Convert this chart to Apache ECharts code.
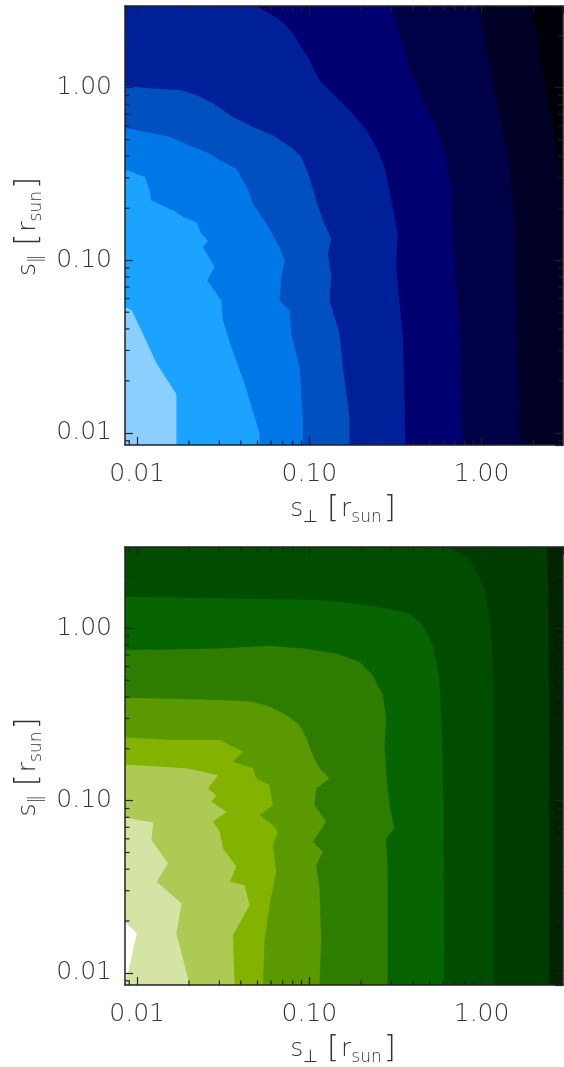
<!DOCTYPE html>
<html><head><meta charset="utf-8">
<script src="https://cdn.jsdelivr.net/npm/echarts@6/dist/echarts.min.js"></script>
<style>html,body{margin:0;padding:0;background:#fff}#c{width:564px;height:1067px}</style>
</head><body><div id="c"></div>
<script>
// ---- axis data ----
const AXIS_MIN = 0.0085, AXIS_MAX = 2.97;
const tickValues = [0.01, 0.1, 1];
const tickLabels = ['0.01', '0.10', '1.00'];
const minorTickValues = [0.009, 0.02, 0.03, 0.04, 0.05, 0.06, 0.07, 0.08, 0.09,
  0.2, 0.3, 0.4, 0.5, 0.6, 0.7, 0.8, 0.9, 2];

// ---- top panel: contour boundaries [s_perp, s_par] (outermost first) ----
const blueBand8 = [[1.932,2.97],[2.111,1.881],[2.308,1.103],[2.523,0.707],[2.697,0.474],[2.820,0.347],[2.97,0.254]];
const blueBand7 = [[0.948,2.97],[1.036,2.056],[1.158,1.055],[1.323,0.592],[1.447,0.347],[1.547,0.178],[1.581,0.0913],[1.617,0.0375],[1.654,0.0085]];
const blueBand6 = [[0.305,2.97],[0.326,2.247],[0.381,1.318],[0.455,0.845],[0.544,0.592],[0.608,0.433],[0.664,0.278],[0.679,0.142],[0.694,0.0913],[0.726,0.0585],[0.759,0.024],[0.776,0.0085]];
const blueBand5 = [[0.0492,2.97],[0.0588,2.685],[0.0702,2.403],[0.0802,2.056],[0.0897,1.721],[0.1002,1.44],[0.1145,1.103],[0.143,0.883],[0.179,0.707],[0.214,0.566],[0.244,0.453],[0.273,0.347],[0.292,0.254],[0.312,0.178],[0.326,0.142],[0.319,0.0913],[0.333,0.0585],[0.348,0.0375],[0.356,0.0192],[0.361,0.0085]];
const blueBand4 = [[0.0085,1.018],[0.0124,0.987],[0.0181,0.965],[0.0221,0.903],[0.0276,0.808],[0.036,0.676],[0.047,0.592],[0.0614,0.530],[0.0802,0.443],[0.0897,0.396],[0.1002,0.303],[0.1095,0.222],[0.1198,0.170],[0.1339,0.133],[0.128,0.109],[0.1339,0.080],[0.1309,0.0585],[0.1496,0.0375],[0.1564,0.024],[0.171,0.0123],[0.171,0.0085]];
const blueBand3 = [[0.0085,0.584],[0.0113,0.553],[0.0155,0.518],[0.0211,0.453],[0.0264,0.414],[0.0302,0.379],[0.0377,0.339],[0.0412,0.290],[0.045,0.243],[0.047,0.213],[0.0514,0.186],[0.0562,0.163],[0.0672,0.119],[0.0718,0.0998],[0.0687,0.080],[0.0672,0.0585],[0.0767,0.0512],[0.0785,0.0375],[0.0877,0.024],[0.0917,0.0123],[0.0917,0.0085]];
const blueBand2 = [[0.0085,0.335],[0.0111,0.303],[0.0118,0.254],[0.0121,0.222],[0.0162,0.194],[0.0185,0.178],[0.0221,0.166],[0.0236,0.142],[0.0258,0.130],[0.0241,0.119],[0.0282,0.0913],[0.0255,0.0764],[0.0308,0.0585],[0.0315,0.0448],[0.0352,0.0314],[0.0421,0.0192],[0.0514,0.0099],[0.0514,0.0085]];
const blueBand1 = [[0.0085,0.0535],[0.0093,0.0512],[0.0108,0.0375],[0.0130,0.0251],[0.0169,0.0168],[0.0169,0.0085]];
const blueColors = ['#000026','#000046','#000070','#00209a','#0050c0','#0078e8','#1ba3ff','#8bcfff'];
const blueBackground = '#000008';

// ---- bottom panel ----
const greenBand9 = [[2.403,2.97],[2.44,1.5],[2.469,0.36],[2.469,0.0085]];
const greenBand8 = [[0.650,2.97],[0.848,2.551],[1.036,1.707],[1.138,1.0],[1.184,0.392],[1.184,0.0085]];
const greenBand7 = [[0.0085,1.527],[0.1145,1.461],[0.179,1.397],[0.279,1.307],[0.381,1.222],[0.455,1.046],[0.520,0.800],[0.569,0.513],[0.589,0.230],[0.600,0.0942],[0.608,0.0085]];
const greenBand6 = [[0.0085,0.748],[0.0302,0.765],[0.0588,0.793],[0.0917,0.765],[0.143,0.716],[0.195,0.640],[0.233,0.536],[0.267,0.410],[0.279,0.300],[0.273,0.210],[0.279,0.147],[0.292,0.0942],[0.312,0.0689],[0.279,0.0603],[0.285,0.0386],[0.285,0.0085]];
const greenBand5 = [[0.0085,0.396],[0.0193,0.389],[0.0302,0.384],[0.047,0.375],[0.0588,0.351],[0.0734,0.314],[0.0877,0.275],[0.0959,0.230],[0.1048,0.184],[0.1145,0.154],[0.1309,0.1345],[0.1095,0.1177],[0.1071,0.0942],[0.1252,0.0753],[0.1145,0.0659],[0.1048,0.0577],[0.1198,0.0504],[0.1095,0.0422],[0.1145,0.0309],[0.1171,0.0158],[0.1145,0.0085]];
const greenBand4 = [[0.0085,0.233],[0.0155,0.225],[0.0302,0.225],[0.0412,0.192],[0.036,0.168],[0.047,0.154],[0.0492,0.1345],[0.0588,0.123],[0.0614,0.0942],[0.0514,0.0824],[0.0614,0.0721],[0.0657,0.0659],[0.0614,0.0551],[0.0642,0.0386],[0.0588,0.0247],[0.055,0.0158],[0.0538,0.0085]];
const greenBand3 = [[0.0085,0.162],[0.0193,0.154],[0.0295,0.1406],[0.0258,0.1177],[0.0288,0.1076],[0.027,0.0984],[0.033,0.0861],[0.0276,0.0753],[0.0302,0.0659],[0.0315,0.0528],[0.0377,0.0413],[0.0345,0.0338],[0.0421,0.0323],[0.045,0.0247],[0.036,0.0166],[0.0368,0.0085]];
const greenBand2 = [[0.0085,0.0795],[0.0124,0.0746],[0.0121,0.059],[0.0151,0.0432],[0.013,0.0338],[0.0181,0.0253],[0.0169,0.0169],[0.0202,0.0085]];
const greenBand1 = [[0.0085,0.0198],[0.00995,0.0169],[0.00887,0.0101],[0.0085,0.0089]];
const greenColors = ['#003b00','#004d00','#066500','#2e7d00','#5a9900','#83b200','#adca55','#d5e4a5','#ffffff'];
const greenBackground = '#002400';

const blueContours = [blueBand8, blueBand7, blueBand6, blueBand5, blueBand4, blueBand3, blueBand2, blueBand1];
const greenContours = [greenBand9, greenBand8, greenBand7, greenBand6, greenBand5, greenBand4, greenBand3, greenBand2, greenBand1];

const FONT = "'DejaVu Sans', sans-serif";
const TXT = '#333';
const AXC = '#222';

function bandRenderer(contours, colors) {
  return function (params, api) {
    const c = contours[params.dataIndex];
    const pts = c.map(p => api.coord(p));
    const last = c[c.length - 1];
    if (last[0] >= AXIS_MAX) pts.push(api.coord([AXIS_MAX, AXIS_MIN]));
    pts.push(api.coord([AXIS_MIN, AXIS_MIN]));
    pts.push(api.coord([AXIS_MIN, AXIS_MAX]));
    return { type: 'polygon', shape: { points: pts }, style: { fill: colors[params.dataIndex], stroke: null } };
  };
}
function minorTickRenderer(params, api) {
  const v = minorTickValues[params.dataIndex];
  const b = api.coord([v, AXIS_MIN]), t = api.coord([v, AXIS_MAX]);
  const l = api.coord([AXIS_MIN, v]), r = api.coord([AXIS_MAX, v]);
  const L = 4.5;
  const st = { stroke: AXC, lineWidth: 1.2 };
  return { type: 'group', children: [
    { type: 'line', shape: { x1: b[0], y1: b[1], x2: b[0], y2: b[1] - L }, style: st },
    { type: 'line', shape: { x1: t[0], y1: t[1], x2: t[0], y2: t[1] + L }, style: st },
    { type: 'line', shape: { x1: l[0], y1: l[1], x2: l[0] + L, y2: l[1] }, style: st },
    { type: 'line', shape: { x1: r[0], y1: r[1], x2: r[0] - L, y2: r[1] }, style: st }
  ] };
}
function fmt(v) {
  for (let i = 0; i < tickValues.length; i++) {
    if (Math.abs(Math.log10(v) - Math.log10(tickValues[i])) < 1e-6) return tickLabels[i];
  }
  return '';
}
const rich = {
  m: { fontSize: 25, lineHeight: 34, fontFamily: FONT, fontWeight: 200, color: TXT },
  s: { fontSize: 17, lineHeight: 17, verticalAlign: 'bottom', fontFamily: FONT, fontWeight: 200, color: TXT },
  b: { fontSize: 31, lineHeight: 34, fontFamily: FONT, fontWeight: 200, color: TXT, padding: [0, 2, 0, 2] }
};
const xName = '{m|s}{s|⊥}  {b|[}{m|r}{s|sun}{b|]}';
const yName = '{m|s}{s|‖}  {b|[}{m|r}{s|sun}{b|]}';

function axisBase(grid, pos) {
  return {
    type: 'log', logBase: 10, gridIndex: grid, position: pos, min: AXIS_MIN, max: AXIS_MAX, z: 10,
    axisLine: { show: true, onZero: false, lineStyle: { color: AXC, width: 1.5 } },
    axisTick: { show: true, inside: true, length: 8, lineStyle: { color: AXC, width: 1.2 } },
    splitLine: { show: false }, minorTick: { show: false }, minorSplitLine: { show: false },
    axisLabel: { show: false }
  };
}
function xMain(grid) {
  const a = axisBase(grid, 'bottom');
  a.axisLabel = { show: true, margin: 17, fontSize: 25, fontFamily: FONT, fontWeight: 200, color: TXT,
    formatter: fmt, showMinLabel: false, showMaxLabel: false };
  a.name = xName; a.nameLocation = 'middle'; a.nameGap = 47;
  a.nameTextStyle = { rich: rich };
  return a;
}
function yMain(grid) {
  const a = axisBase(grid, 'left');
  a.axisLabel = { show: true, margin: 13, fontSize: 25, fontFamily: FONT, fontWeight: 200, color: TXT,
    formatter: fmt, showMinLabel: false, showMaxLabel: false };
  a.name = yName; a.nameLocation = 'middle'; a.nameGap = 80; a.nameRotate = 90;
  a.nameTextStyle = { rich: rich };
  return a;
}

const chart = echarts.init(document.getElementById('c'), null, { renderer: 'canvas' });
chart.setOption({
  animation: false,
  backgroundColor: '#ffffff',
  grid: [
    { left: 125, top: 6, width: 438, height: 439, show: true, backgroundColor: blueBackground, borderWidth: 0 },
    { left: 125, top: 547, width: 438, height: 440, show: true, backgroundColor: greenBackground, borderWidth: 0 }
  ],
  xAxis: [xMain(0), axisBase(0, 'top'), xMain(1), axisBase(1, 'top')],
  yAxis: [yMain(0), axisBase(0, 'right'), yMain(1), axisBase(1, 'right')],
  series: [
    { type: 'custom', xAxisIndex: 0, yAxisIndex: 0, clip: true, z: 2,
      renderItem: bandRenderer(blueContours, blueColors), data: blueContours.map(c => c[0]) },
    { type: 'custom', xAxisIndex: 2, yAxisIndex: 2, clip: true, z: 2,
      renderItem: bandRenderer(greenContours, greenColors), data: greenContours.map(c => c[0]) },
    { type: 'custom', xAxisIndex: 0, yAxisIndex: 0, z: 5,
      renderItem: minorTickRenderer, data: minorTickValues.map(v => [v, v]) },
    { type: 'custom', xAxisIndex: 2, yAxisIndex: 2, z: 5,
      renderItem: minorTickRenderer, data: minorTickValues.map(v => [v, v]) }
  ]
});
</script></body></html>
